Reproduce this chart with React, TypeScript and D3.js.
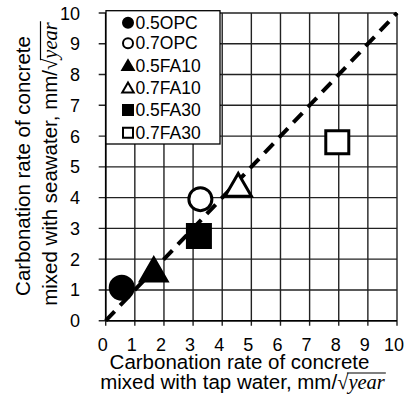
import React, { useLayoutEffect, useRef, useState } from "react";
import * as d3 from "d3";

const series = ["0.5OPC", "0.7OPC", "0.5FA10", "0.7FA10", "0.5FA30", "0.7FA30"];
const shapes = ["circle", "circle", "triangle", "triangle", "square", "square"];
const filled = [true, false, true, false, true, false];
const tapWater = [0.55, 3.25, 1.65, 4.55, 3.2, 7.95];
const seaWater = [1.07, 3.95, 1.6, 4.35, 2.75, 5.8];
const ticks = [0, 1, 2, 3, 4, 5, 6, 7, 8, 9, 10];
const xTitle = ["Carbonation rate of concrete", "mixed with tap water, mm/"];
const yTitle = ["Carbonation rate of concrete", "mixed with seawater, mm/"];
const unitText = "year";

const W = 407, H = 403;
const L = 105.7, R = 397, T = 13, B = 320.7;
const FONT = "'Liberation Sans', Arial, sans-serif";
const SERIF = "'Liberation Serif', 'Times New Roman', serif";
const TS = 20.5;

function Marker({ shape, fill, x, y, size }: { shape: string; fill: boolean; x: number; y: number; size: number }) {
  const sym = shape === "circle" ? d3.symbolCircle : shape === "triangle" ? d3.symbolTriangle : d3.symbolSquare;
  const area = shape === "circle" ? Math.PI * (size / 2) ** 2 : shape === "square" ? size * size : (Math.sqrt(3) / 4) * (size * 1.15) ** 2;
  const p = d3.symbol().type(sym).size(area)()!;
  const dy = shape === "triangle" ? size * 0.08 : 0;
  return (
    <path
      d={p}
      transform={`translate(${x},${y + dy})`}
      fill={fill ? "#000" : "#fff"}
      stroke="#000"
      strokeWidth={size > 15 ? 3 : 2}
    />
  );
}

function UnitLine({ text, x, y, anchor }: { text: string; x: number; y: number; anchor: string }) {
  const ref = useRef<SVGTextElement>(null);
  const [ol, setOl] = useState<[number, number] | null>(null);
  const n = text.length;
  useLayoutEffect(() => {
    const el = ref.current;
    if (!el) return;
    try {
      // characters: text + "√" + unit
      const startRad = el.getStartPositionOfChar(n).x;
      const endRad = el.getEndPositionOfChar(n).x;
      const end = el.getEndPositionOfChar(n + unitText.length).x;
      setOl([endRad - 1.5 - x + (startRad - startRad), end + 1 - x]);
    } catch (e) {
      /* ignore */
    }
  }, []);
  return (
    <g transform={`translate(${x},${y})`}>
      <text ref={ref} x={0} y={0} fontSize={TS} textAnchor={anchor} fill="#000" transform={`translate(${-x},0)`} dx={x}>
        {text}
        <tspan fontFamily={SERIF}>√</tspan>
        <tspan fontFamily={SERIF} fontStyle="italic">{unitText}</tspan>
      </text>
      {ol && <line x1={ol[0]} x2={ol[1]} y1={-16} y2={-16} stroke="#000" strokeWidth={1.2} />}
    </g>
  );
}

export default function App() {
  const x = d3.scaleLinear().domain([0, 10]).range([L, R]);
  const y = d3.scaleLinear().domain([0, 10]).range([B, T]);
  const legendRows = [22.7, 43.3, 66, 88.3, 110, 132.7];
  return (
    <svg width={W} height={H} style={{ position: "absolute", left: 0, top: 0, background: "#fff" }} fontFamily={FONT}>
      <rect width={W} height={H} fill="#fff" />
      {/* grid */}
      {ticks.map((t) => (
        <line key={"gx" + t} x1={x(t)} x2={x(t)} y1={T} y2={B + 5} stroke="#222" strokeWidth={1.4} />
      ))}
      {ticks.map((t) => (
        <line key={"gy" + t} x1={L - 7} x2={R} y1={y(t)} y2={y(t)} stroke="#222" strokeWidth={1.4} />
      ))}
      <line x1={L} x2={L} y1={T} y2={B} stroke="#000" strokeWidth={1.6} />
      <line x1={L} x2={R} y1={B} y2={B} stroke="#000" strokeWidth={1.6} />
      {/* tick labels */}
      {ticks.map((t) => (
        <text key={"tx" + t} x={x(t) - 3} y={350.5} fontSize={18} textAnchor="middle" fill="#000">{t}</text>
      ))}
      {ticks.map((t) => (
        <text key={"ty" + t} x={80} y={y(t) + 6.5} fontSize={18} textAnchor="end" fill="#000">{t}</text>
      ))}
      {/* diagonal */}
      <line x1={x(0)} y1={y(0)} x2={x(10)} y2={y(10)} stroke="#000" strokeWidth={4} strokeDasharray="13 8" />
      {/* points */}
      {series.map((s, i) => (
        <Marker key={s} shape={shapes[i]} fill={filled[i]} x={x(tapWater[i])} y={y(seaWater[i])} size={23} />
      ))}
      {/* legend */}
      <rect x={106} y={10.7} width={114} height={133.3} fill="#fff" stroke="#000" strokeWidth={1.3} />
      {series.map((s, i) => (
        <g key={"lg" + s}>
          <Marker shape={shapes[i]} fill={filled[i]} x={128} y={legendRows[i]} size={10} />
          <text x={135.5} y={legendRows[i] + 6} fontSize={17.5} fill="#000">{s}</text>
        </g>
      ))}
      {/* x title */}
      <text x={239.5} y={368.5} fontSize={TS} textAnchor="middle" fill="#000">{xTitle[0]}</text>
      <UnitLine text={xTitle[1]} x={242.5} y={389} anchor="middle" />
      {/* y title */}
      <g transform="translate(30,166) rotate(-90)">
        <text x={0} y={0} fontSize={TS} textAnchor="middle" fill="#000">{yTitle[0]}</text>
      </g>
      <g transform="translate(56.5,164) rotate(-90)">
        <UnitLine text={yTitle[1]} x={0} y={0} anchor="middle" />
      </g>
    </svg>
  );
}
